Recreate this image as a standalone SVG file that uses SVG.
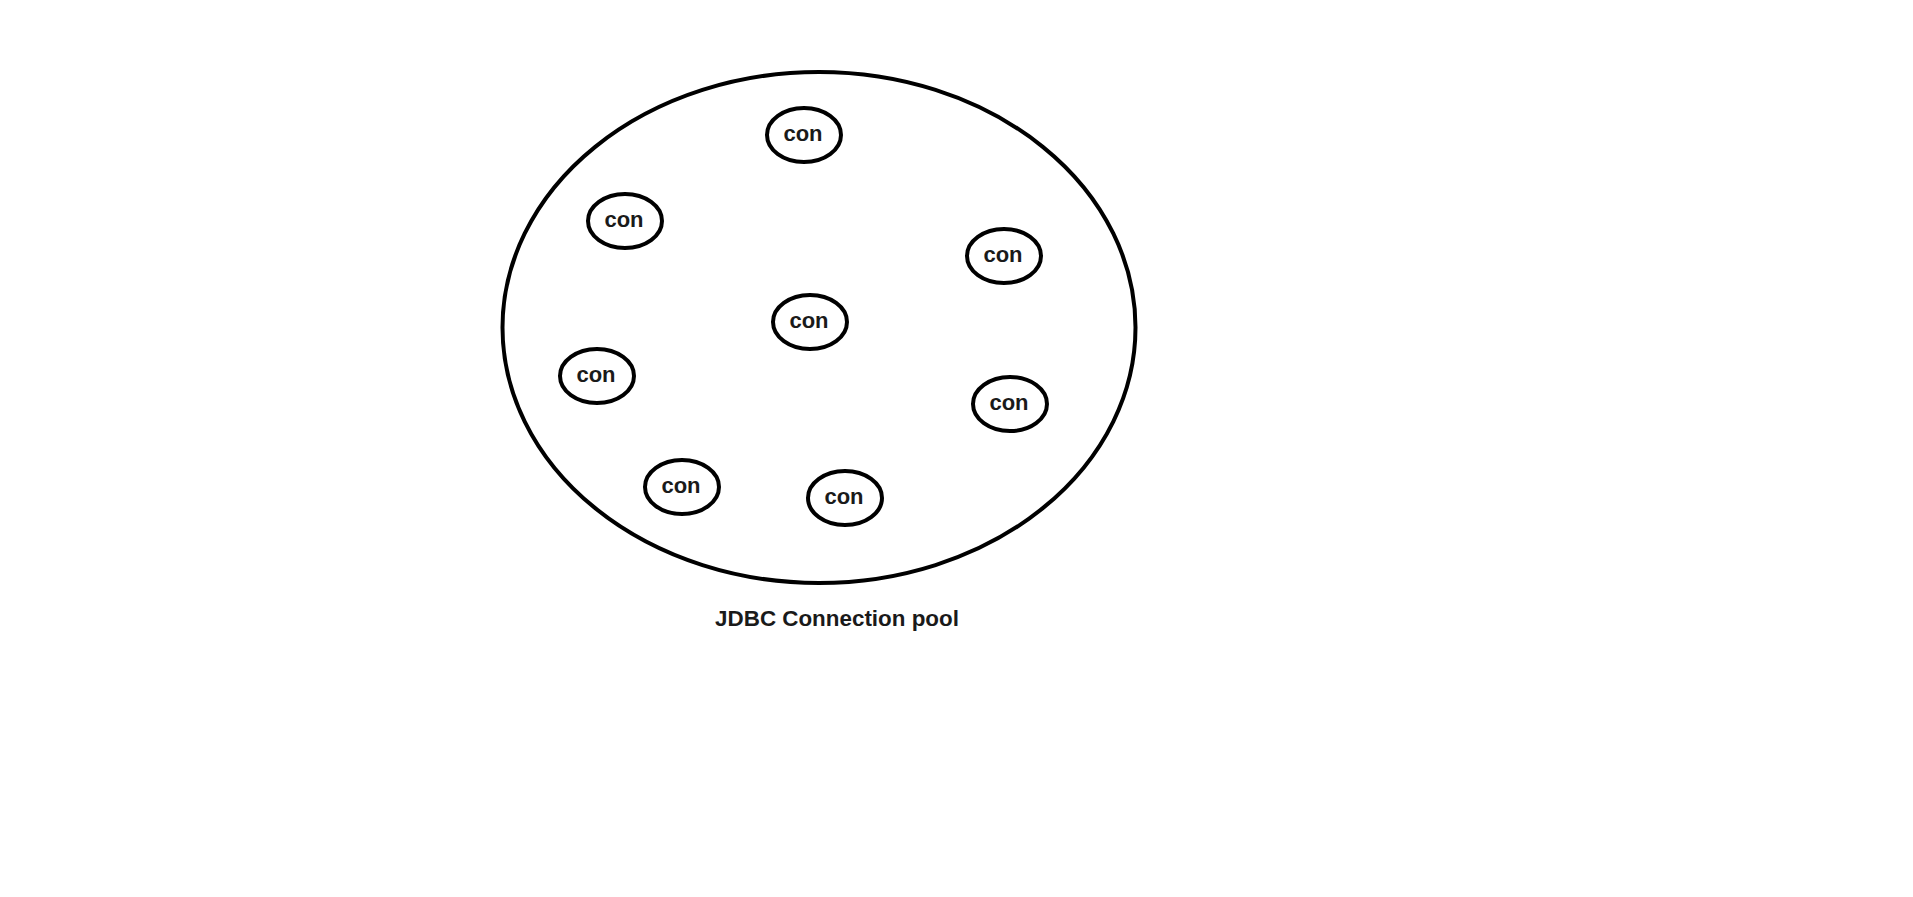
<svg xmlns="http://www.w3.org/2000/svg" width="1913" height="897" viewBox="0 0 1913 897">
<style>
.pool{fill:none;stroke:#000;stroke-width:4}
.con{fill:#fff;stroke:#000;stroke-width:4}
.t{font-family:"Liberation Sans",Arial,sans-serif;font-weight:bold;fill:#1a1a1a;text-anchor:middle}
.c{font-size:22px}
.l{font-size:22.4px}
</style>
<rect width="1913" height="897" fill="#fff"/>
<g id="pool">
<ellipse class="pool" cx="819" cy="327.5" rx="316.5" ry="255.5"/>
</g>
<g id="con1"><ellipse class="con" cx="804" cy="135" rx="37" ry="27"/><text class="t c" x="803" y="141">con</text></g>
<g id="con2"><ellipse class="con" cx="625" cy="221" rx="37" ry="27"/><text class="t c" x="624" y="227">con</text></g>
<g id="con3"><ellipse class="con" cx="1004" cy="256" rx="37" ry="27"/><text class="t c" x="1003" y="262">con</text></g>
<g id="con4"><ellipse class="con" cx="810" cy="322" rx="37" ry="27"/><text class="t c" x="809" y="328">con</text></g>
<g id="con5"><ellipse class="con" cx="597" cy="376" rx="37" ry="27"/><text class="t c" x="596" y="382">con</text></g>
<g id="con6"><ellipse class="con" cx="1010" cy="404" rx="37" ry="27"/><text class="t c" x="1009" y="410">con</text></g>
<g id="con7"><ellipse class="con" cx="682" cy="487" rx="37" ry="27"/><text class="t c" x="681" y="493">con</text></g>
<g id="con8"><ellipse class="con" cx="845" cy="498" rx="37" ry="27"/><text class="t c" x="844" y="504">con</text></g>
<g id="label"><text class="t l" x="837" y="626">JDBC Connection pool</text></g>
<g id="connectors"></g>
</svg>
